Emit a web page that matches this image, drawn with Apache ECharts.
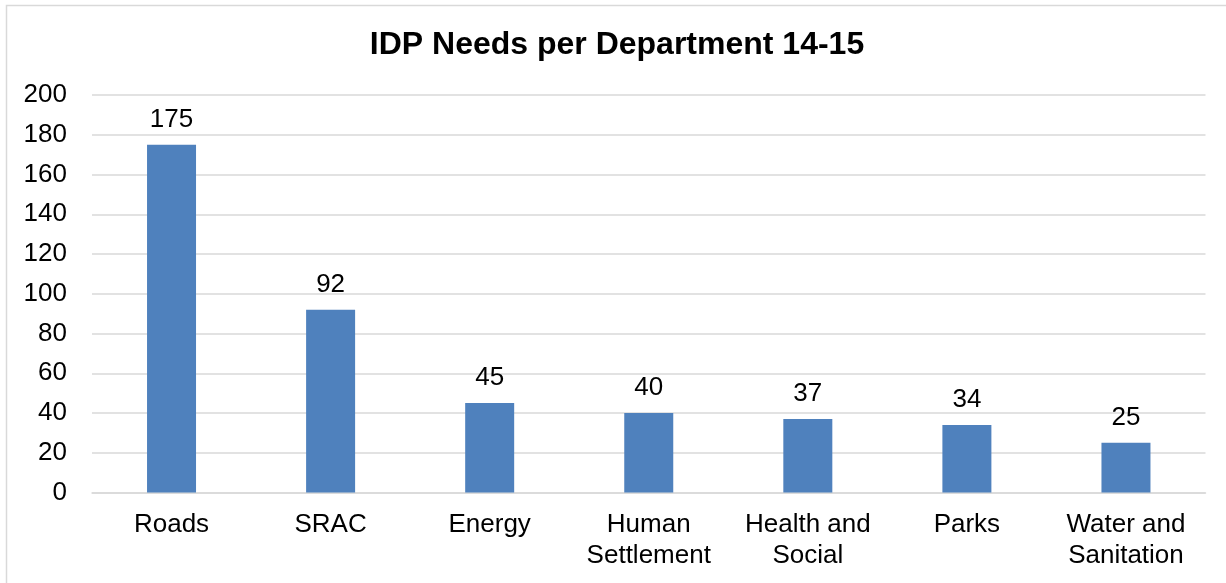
<!DOCTYPE html>
<html>
<head>
<meta charset="utf-8">
<script src="https://cdn.jsdelivr.net/npm/echarts@6/dist/echarts.min.js"></script>
<style>
  html, body { margin: 0; padding: 0; background: #fff; }
  #chart { width: 1226px; height: 583px; }
</style>
</head>
<body>
<div id="chart"></div>
<script>
// Department names and the number of IDP needs recorded for each
const departments = ['Roads', 'SRAC', 'Energy', 'Human\nSettlement', 'Health and\nSocial', 'Parks', 'Water and\nSanitation'];
const needs = [175, 92, 45, 40, 37, 34, 25];
const yTicks = [0, 20, 40, 60, 80, 100, 120, 140, 160, 180, 200];

const FONT = '"Liberation Sans", Arial, sans-serif';
const chart = echarts.init(document.getElementById('chart'), null, { renderer: 'canvas' });

chart.setOption({
  backgroundColor: '#ffffff',
  animation: false,
  title: {
    text: 'IDP Needs per Department 14-15',
    left: 612,
    textAlign: 'center',
    top: 24,
    textStyle: { fontFamily: FONT, fontSize: 32, fontWeight: 'bold', color: '#000' }
  },
  graphic: [{
    type: 'rect',
    shape: { x: 6.5, y: 5.5, width: 1240, height: 620 },
    style: { fill: 'none', stroke: '#d9d9d9', lineWidth: 1.5 },
    silent: true,
    z: -1
  }],
  grid: { left: 92, right: 20.5, top: 95, bottom: 90.5, containLabel: false },
  xAxis: {
    type: 'category',
    data: departments,
    axisTick: { show: false },
    axisLine: { lineStyle: { color: '#d9d9d9', width: 1.5 } },
    axisLabel: {
      interval: 0,
      margin: 17,
      fontFamily: FONT,
      fontSize: 26,
      lineHeight: 31,
      color: '#000'
    }
  },
  yAxis: {
    type: 'value',
    min: yTicks[0],
    max: yTicks[yTicks.length - 1],
    interval: yTicks[1] - yTicks[0],
    axisLine: { show: false },
    axisTick: { show: false },
    splitLine: { lineStyle: { color: '#d9d9d9', width: 1.5 } },
    axisLabel: {
      margin: 25,
      fontFamily: FONT,
      fontSize: 26,
      color: '#000'
    }
  },
  series: [{
    type: 'bar',
    data: needs,
    barWidth: 49,
    itemStyle: { color: '#4f81bd' },
    label: {
      show: true,
      position: 'top',
      distance: 12,
      fontFamily: FONT,
      fontSize: 26,
      color: '#000'
    }
  }]
});
</script>
</body>
</html>
